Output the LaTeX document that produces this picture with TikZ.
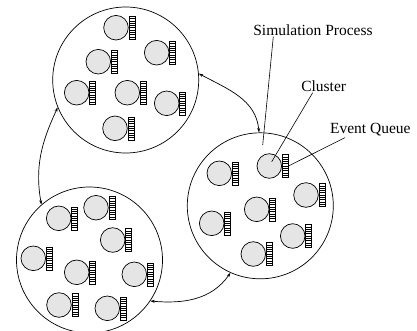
\documentclass[tikz,border=0pt]{standalone}
\usepackage{fontspec}
\setmainfont{Liberation Serif}
\usetikzlibrary{arrows.meta}
\begin{document}
\begin{tikzpicture}[x=1pt,y=-1pt,
  big/.style={draw, circle, line width=0.7pt, minimum size=146pt, inner sep=0pt},
  clu/.style={draw, circle, line width=0.7pt, fill=black!10, minimum size=24.6pt, inner sep=0pt},
  que/.style={draw, line width=0.5pt, anchor=west, minimum width=6pt, minimum height=23pt, inner sep=0pt,
    path picture={\foreach \k in {1,...,9} \draw[line width=0.45pt] ([yshift=\k*2.3pt]path picture bounding box.south west) -- ++(6pt,0);}},
  lab/.style={font=\fontsize{15.5}{18}\selectfont, inner sep=0pt},
  lead/.style={line width=0.6pt},
  link/.style={line width=0.7pt, {Stealth[length=4.5pt,width=3pt]}-{Stealth[length=4.5pt,width=3pt]}}
]
\useasboundingbox (0,0) rectangle (417,330);
\node[big] (T) at (125.7,80) {};
\node[big] (R) at (260.3,205.8) {};
\node[big] (B) at (89.5,260) {};
\foreach \x/\y [count=\i] in {116/27.7,156.7/52.7,98.3/61.7,76.7/92.7,127.3/92.7,166.7/103.3,115/128.3}{
  \node[clu] (t\i) at (\x,\y) {};
  \node[que] (tq\i) at (t\i.east) {};
}
\foreach \x/\y [count=\i] in {219.3/173.3,269.3/166,306/195,256.7/209.3,211.7/223.3,292.7/236,253.3/254}{
  \node[clu] (r\i) at (\x,\y) {};
  \node[que] (rq\i) at (r\i.east) {};
}
\foreach \x/\y [count=\i] in {58.7/218.3,96/207.7,112.7/240,33.3/258.3,76.7/272.3,134.3/274.3,59/305,107.3/308.3}{
  \node[clu] (b\i) at (\x,\y) {};
  \node[que] (bq\i) at (b\i.east) {};
}
\draw[link] (T.5) to[out=-28,in=95] (R.91);
\draw[link] (T.-158) to[out=245,in=100] (B.131);
\draw[link] (B.-34.6) to[out=-5,in=235] (R.-114.7);
\node[lab] (sp) at (313,30) {Simulation Process};
\node[lab] (cl) at (323.7,86) {Cluster};
\node[lab] (eq) at (370.3,130) {Event Queue};
\coordinate (spend) at (262.7,145);
\coordinate (clend) at (271.7,161.7);
\draw[lead] ([xshift=-39.7pt,yshift=-1pt]sp.south) -- (spend);
\draw[lead] ([xshift=-11pt,yshift=-1pt]cl.south) -- (clend);
\draw[lead] ([xshift=-25.3pt,yshift=-1pt]eq.south) -- (rq2.east);
\end{tikzpicture}
\end{document}
